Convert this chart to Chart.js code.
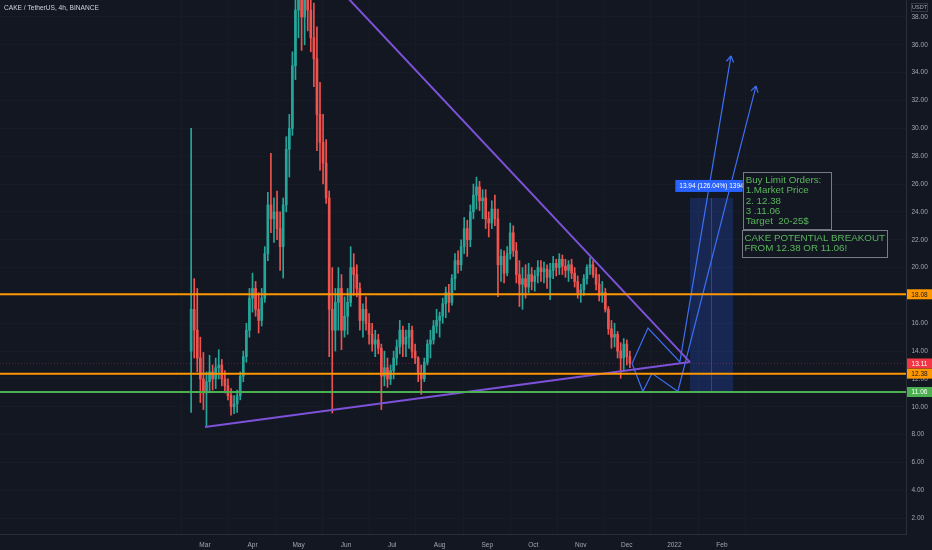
<!DOCTYPE html>
<html>
<head>
<meta charset="utf-8">
<script src="https://cdn.jsdelivr.net/npm/chart.js@4.4.1/dist/chart.umd.min.js"></script>
<style>
  html, body { margin: 0; padding: 0; background: #131722; }
  #wrap { width: 932px; height: 550px; }
</style>
</head>
<body>
<div id="wrap"><canvas id="chart" width="932" height="550"></canvas></div>
<script>
const startDate = '2021-02-20'
const candleStepDays = 2
const firstOpen = 14.0

const highs = [
  30, 19.2, 18.5, 15, 13.9, 12.5, 13.7, 13, 13.5, 14.1,
  13.4, 12.6, 12, 11.3, 10.8, 11.2, 12.5, 14, 16, 18.5,
  19.6, 19, 18.2, 18.5, 21.5, 25.4, 28.2, 25, 25.5, 24,
  25, 29.4, 31, 35.5, 40.5, 44, 42.5, 42, 43, 41,
  39, 37.3, 33.3, 31, 29.2, 25.5, 20, 18.5, 20, 19.5,
  17.9, 18.5, 21.5, 21, 20.2, 18.9, 17.4, 17.9, 16.7, 16,
  15.5, 15.2, 14.5, 14, 13.5, 13, 14, 14.8, 16.2, 15.8,
  15.5, 16, 15.8, 14.5, 13.6, 13, 13.5, 14.8, 15.5, 16.2,
  17, 16.8, 17.8, 18.6, 18.8, 19.5, 21, 21.2, 22, 23.6,
  23.4, 24.5, 26, 26.5, 26.2, 25.6, 25.6, 24, 24.8, 25.2,
  24.2, 21.3, 21.2, 21.5, 23.2, 23, 21.8, 20.5, 20, 20.2,
  20.3, 20, 19.8, 20.5, 20.5, 20.4, 20.2, 20.3, 20.8, 20.6,
  21, 20.9, 20.6, 20.5, 20.6, 20, 19.4, 18.8, 19.5, 20.2,
  20.7, 20.5, 20, 19.5, 19, 18.5, 17.2, 16.2, 16, 15.4,
  14.6, 14.9, 14.8, 14
]
const lows = [
  9.6, 13.5, 12.5, 10.3, 9.8, 8.6, 11, 11.2, 11.3, 12,
  11.5, 11, 10.5, 9.4, 9.5, 9.6, 10.5, 11.8, 13.2, 15,
  16.8, 16.5, 15.3, 15.8, 17.5, 20.5, 22.5, 21.8, 22, 19.8,
  19.25, 24, 26.5, 29.5, 33.5, 36.5, 35.6, 36, 37, 35.5,
  33, 28.4, 27, 26, 24.6, 13.6, 9.55, 14, 15.5, 14.1,
  15, 15.2, 17.2, 18, 17.9, 15.5, 15, 15.5, 14.5, 14,
  13.6, 13.8, 9.8, 11.5, 11.4, 11.6, 12, 13, 13.8, 13.6,
  13.6, 14.2, 13.5, 13.1, 11.8, 10.9, 11.8, 13, 13.5, 14.5,
  15.3, 15, 16, 16.4, 16.8, 17.3, 18.4, 19.6, 19.8, 21,
  20.8, 21.5, 23.5, 24.2, 24.1, 23.5, 22.8, 22.2, 22.8, 23,
  17.9, 19, 18.9, 19.4, 20.6, 20.8, 18.9, 17.2, 17, 17.8,
  18.2, 18.4, 18.3, 18.9, 19, 18.9, 18.5, 17.7, 19.2, 19.4,
  19.5, 19.5, 19.3, 19, 19.2, 18.6, 17.8, 17.5, 18, 18.8,
  19.5, 19.3, 18.4, 17.6, 17.5, 16.8, 15.2, 14.2, 14.3, 13.5,
  12.05, 12.6, 13, 12.8
]
const closes = [
  17, 15.5, 13.5, 12, 11, 11.8, 12.5, 12, 12.8, 13,
  12, 11.5, 10.8, 10, 10.2, 10.8, 12.2, 13.6, 15.5, 17.8,
  18.5, 17, 16.2, 17.8, 21, 24.5, 23.5, 24, 22.8, 21.5,
  24.5, 28.5, 30, 34.5, 38.5, 39.5, 38, 40, 38.5, 36.5,
  35, 31, 29, 27.5, 25, 17, 15.5, 17.5, 18.5, 15.5,
  16.5, 17.5, 20, 19.5, 18.5, 16.2, 17, 16, 15.2, 14.5,
  14.8, 14.2, 12.2, 12.8, 12, 12.6, 13.5, 14.3, 15.5, 14.5,
  15, 15.5, 14, 13.5, 12.4, 12, 13.2, 14.5, 14.8, 15.8,
  16.2, 16.5, 17.4, 18.2, 17.5, 19.2, 20.5, 20.2, 21.5, 22.8,
  22, 24, 25.2, 25.8, 24.8, 25, 23.5, 23.2, 24.2, 23.5,
  20.2, 20.8, 19.6, 21, 22.5, 21.2, 19.5, 18.8, 19.2, 18.6,
  19.5, 19, 19.4, 20, 19.7, 19.9, 19.3, 19.8, 20.3, 20,
  20.6, 20.1, 19.8, 20.2, 19.6, 19, 18.2, 18.4, 19.2, 20,
  20.2, 19.5, 18.8, 18, 18.2, 17, 15.6, 15, 15.2, 14,
  13.5, 14.5, 13.6, 13.11
]

const monthTickDates = ['2021-03-01', '2021-04-01', '2021-05-01', '2021-06-01', '2021-07-01', '2021-08-01',
  '2021-09-01', '2021-10-01', '2021-11-01', '2021-12-01', '2022-01-01', '2022-02-01']
const monthTickLabels = ['Mar', 'Apr', 'May', 'Jun', 'Jul', 'Aug', 'Sep', 'Oct', 'Nov', 'Dec', '2022', 'Feb']
const priceTicks = [2, 4, 6, 8, 10, 12, 14, 16, 18, 20, 22, 24, 26, 28, 30, 32, 34, 36, 38]

// drawings, points are [days since 1 Mar 2021, price]
const resistanceLine = [[92, 39.5], [316.2, 13.21]]
const supportLine = [[0, 8.55], [316.2, 13.21]]
const pathUpper = [[278.4, 13.11], [288.8, 15.66], [309.6, 13.22], [342.9, 35.2]]
const pathLower = [[278.4, 13.11], [285.5, 11.1], [291.4, 12.4], [308.3, 11.1], [359.2, 33.04]]
const levelPrices = [18.08, 12.38, 11.06]
const positionEntry = 11.06
const positionTarget = 25.0
const positionDays = [316.2, 344.2]
const noteOrders = ['Buy Limit Orders:', '1.Market Price', '2. 12.38', '3 .11.06', 'Target  20-25$']
const noteOrdersAt = [350.5, 26.89]
const noteBreakout = ['CAKE POTENTIAL BREAKOUT', 'FROM 12.38 OR 11.06!']
const noteBreakoutAt = [349.9, 22.70]
const titleText = 'CAKE / TetherUS, 4h, BINANCE'
const currencyText = 'USDT'

// view
const xMin = -133.6, xMax = 457.0
const yMin = 0.86, yMax = 39.22

const BG = '#131722'
const UP = '#26a69a'
const DOWN = '#ef5350'
const GRID = '#171b26'
const AXIS_TEXT = '#a3a6af'
const ORANGE = '#ff9800'
const GREEN = '#4caf50'
const PURPLE = '#7d52d9'
const BLUE = '#3d6ff5'
const NOTE_GREEN = '#5ab55d'

const MS_DAY = 86400000
const dayOf = s => (Date.parse(s + 'T00:00:00Z') - Date.parse('2021-03-01T00:00:00Z')) / MS_DAY

const candleDays = closes.map((_, i) => dayOf(startDate) + i * candleStepDays)
const opens = closes.map((c, i) => i === 0 ? firstOpen : closes[i - 1])
const candleColors = closes.map((c, i) => c >= opens[i] ? UP : DOWN)
const monthTickDays = monthTickDates.map(dayOf)
const lastPrice = closes[closes.length - 1]

const toXY = pts => pts.map(p => ({ x: p[0], y: p[1] }))
const lineSet = (data, color, width, extra) => Object.assign({
  type: 'line', data, borderColor: color, borderWidth: width,
  pointRadius: 0, tension: 0, fill: false, order: 1
}, extra || {})

const datasets = [
  {
    type: 'bar', label: 'wick',
    data: candleDays.map((d, i) => ({ x: d, y: [lows[i], highs[i]] })),
    backgroundColor: candleColors, barThickness: 1, grouped: false, order: 10
  },
  {
    type: 'bar', label: 'body',
    data: candleDays.map((d, i) => ({ x: d, y: [opens[i], closes[i]] })),
    backgroundColor: candleColors, barThickness: 2, minBarLength: 1, grouped: false, order: 9
  },
  lineSet([{ x: xMin, y: lastPrice }, { x: xMax, y: lastPrice }], 'rgba(242,54,69,0.35)', 1, { borderDash: [1, 2], order: 5 }),
  lineSet([{ x: xMin, y: levelPrices[0] }, { x: xMax, y: levelPrices[0] }], ORANGE, 2),
  lineSet([{ x: xMin, y: levelPrices[1] }, { x: xMax, y: levelPrices[1] }], ORANGE, 2),
  lineSet([{ x: xMin, y: levelPrices[2] }, { x: xMax, y: levelPrices[2] }], GREEN, 2),
  lineSet(toXY(resistanceLine), PURPLE, 2),
  lineSet(toXY(supportLine), PURPLE, 2),
  lineSet(toXY(pathUpper), BLUE, 1.2),
  lineSet(toXY(pathLower), BLUE, 1.2)
]

const noPadding = s => { s.paddingTop = 0; s.paddingBottom = 0; s.paddingLeft = 0; s.paddingRight = 0 }

const drawings = {
  id: 'drawings',
  beforeDraw(chart) {
    const { ctx, width, height } = chart
    ctx.save()
    ctx.fillStyle = BG
    ctx.fillRect(0, 0, width, height)
    ctx.restore()
  },
  beforeDatasetsDraw(chart) {
    const { ctx, chartArea: a, scales: { x, y } } = chart
    ctx.save()
    ctx.beginPath()
    ctx.rect(a.left, a.top, a.width, a.height)
    ctx.clip()
    const x0 = x.getPixelForValue(positionDays[0]), x1 = x.getPixelForValue(positionDays[1])
    const yT = y.getPixelForValue(positionTarget), yE = y.getPixelForValue(positionEntry)
    ctx.fillStyle = 'rgba(41,98,255,0.22)'
    ctx.fillRect(x0, yT, x1 - x0, yE - yT)
    ctx.strokeStyle = 'rgba(90,130,255,0.35)'
    ctx.lineWidth = 1
    const xm = Math.round((x0 + x1) / 2) + 0.5
    ctx.beginPath()
    ctx.moveTo(xm, yT)
    ctx.lineTo(xm, yE)
    ctx.stroke()
    ctx.restore()
  },
  afterDraw(chart) {
    const { ctx, chartArea: a, scales: { x, y } } = chart
    const px = p => [x.getPixelForValue(p[0]), y.getPixelForValue(p[1])]
    ctx.save()

    // arrow heads
    ctx.strokeStyle = BLUE
    ctx.lineWidth = 1.2
    for (const path of [pathUpper, pathLower]) {
      const [p0, p1] = path.slice(-2).map(px)
      const ang = Math.atan2(p1[1] - p0[1], p1[0] - p0[0])
      ctx.beginPath()
      for (const s of [-1, 1]) {
        ctx.moveTo(p1[0], p1[1])
        ctx.lineTo(p1[0] - 7 * Math.cos(ang + s * 0.55), p1[1] - 7 * Math.sin(ang + s * 0.55))
      }
      ctx.stroke()
    }

    // position label
    const diff = positionTarget - positionEntry
    const posText = diff.toFixed(2) + ' (' + (diff / positionEntry * 100).toFixed(2) + '%) ' + Math.round(diff * 100)
    ctx.font = '6.5px "Liberation Sans"'
    const cx = (x.getPixelForValue(positionDays[0]) + x.getPixelForValue(positionDays[1])) / 2
    const yT = y.getPixelForValue(positionTarget)
    const tw = ctx.measureText(posText).width + 8
    ctx.fillStyle = '#2962ff'
    ctx.fillRect(cx - tw / 2, yT - 18, tw, 12)
    ctx.fillStyle = '#ffffff'
    ctx.textAlign = 'center'
    ctx.textBaseline = 'middle'
    ctx.fillText(posText, cx, yT - 12)

    // text notes
    const note = (lines, at, w, h, lh, padX, padTop) => {
      const [nx, ny] = px(at)
      ctx.fillStyle = BG
      ctx.fillRect(nx, ny, w, h)
      ctx.strokeStyle = '#787b86'
      ctx.lineWidth = 1
      ctx.strokeRect(Math.round(nx) + 0.5, Math.round(ny) + 0.5, w, h)
      ctx.fillStyle = NOTE_GREEN
      ctx.font = '9.8px "Liberation Sans"'
      ctx.textAlign = 'left'
      ctx.textBaseline = 'middle'
      lines.forEach((t, i) => ctx.fillText(t, nx + padX, ny + padTop + i * lh))
    }
    note(noteOrders, noteOrdersAt, 88, 57, 10.4, 3, 8.5)
    note(noteBreakout, noteBreakoutAt, 145, 27, 10, 2.8, 8.5)

    // axis price labels
    const tags = [
      [levelPrices[0], ORANGE, '#131722'],
      [lastPrice, '#f23645', '#ffffff'],
      [levelPrices[1], ORANGE, '#131722'],
      [levelPrices[2], GREEN, '#ffffff']
    ]
    ctx.font = '6.5px "Liberation Sans"'
    ctx.textAlign = 'center'
    for (const [v, bg, fg] of tags) {
      const yy = y.getPixelForValue(v)
      ctx.fillStyle = bg
      ctx.fillRect(a.right + 1, yy - 5, 25, 10)
      ctx.fillStyle = fg
      ctx.fillText(v.toFixed(2), a.right + 13.5, yy + 0.5)
    }

    // title and currency
    ctx.textAlign = 'left'
    ctx.fillStyle = '#d1d4dc'
    ctx.font = '6.6px "Liberation Sans"'
    ctx.fillText(titleText, 4, 8)
    ctx.strokeStyle = '#363a45'
    ctx.strokeRect(a.right + 5.5, 3.5, 16, 8)
    ctx.fillStyle = AXIS_TEXT
    ctx.font = '5.5px "Liberation Sans"'
    ctx.textAlign = 'center'
    ctx.fillText(currencyText, a.right + 13.5, 7.8)
    ctx.restore()
  }
}

Chart.defaults.font.family = '"Liberation Sans", Arial, sans-serif'

new Chart(document.getElementById('chart'), {
  type: 'bar',
  data: { datasets },
  options: {
    responsive: false,
    devicePixelRatio: 1,
    animation: false,
    events: [],
    layout: { autoPadding: false, padding: 0 },
    plugins: { legend: { display: false }, tooltip: { enabled: false } },
    scales: {
      x: {
        type: 'linear', min: xMin, max: xMax, offset: false,
        grid: { color: GRID, drawTicks: false },
        border: { color: '#2a2e39' },
        afterBuildTicks: s => { s.ticks = monthTickDays.map(v => ({ value: v })) },
        afterFit: s => { s.height = 16; noPadding(s) },
        ticks: {
          autoSkip: false, maxRotation: 0, padding: 7,
          color: AXIS_TEXT, font: { size: 6.5 },
          callback: (v, i) => monthTickLabels[i]
        }
      },
      y: {
        position: 'right', min: yMin, max: yMax,
        grid: { color: GRID, drawTicks: false },
        border: { color: '#2a2e39' },
        afterBuildTicks: s => { s.ticks = priceTicks.map(v => ({ value: v })) },
        afterFit: s => { s.width = 26; noPadding(s) },
        ticks: {
          padding: 5.5, color: AXIS_TEXT, font: { size: 6.5 },
          callback: v => v.toFixed(2)
        }
      }
    }
  },
  plugins: [drawings]
})
</script>
</body>
</html>
